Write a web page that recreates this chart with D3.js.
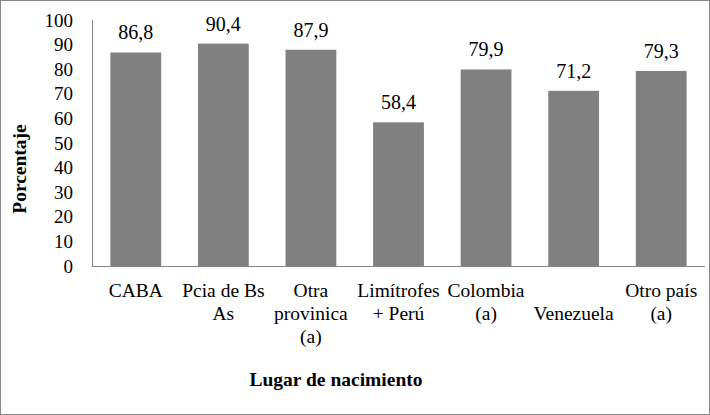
<!DOCTYPE html>
<html>
<head>
<meta charset="utf-8">
<script src="https://cdn.jsdelivr.net/npm/d3@7"></script>
<style>
  body { margin: 0; background: #fff; }
  svg text { font-family: "Liberation Serif", serif; fill: #000; }
</style>
</head>
<body>
<svg id="chart" width="710" height="415"></svg>
<script>
// categories, as wrapped in the original (Venezuela sits on the 2nd line)
var categories = ["CABA", "Pcia de Bs As", "Otra provinica (a)", "Limítrofes + Perú", "Colombia (a)", "Venezuela", "Otro país (a)"];
var labelLines = [["CABA"], ["Pcia de Bs", "As"], ["Otra", "provinica", "(a)"], ["Limítrofes", "+ Perú"], ["Colombia", "(a)"], ["", "Venezuela"], ["Otro país", "(a)"]];
var values = [86.8, 90.4, 87.9, 58.4, 79.9, 71.2, 79.3];
var yTicks = [0, 10, 20, 30, 40, 50, 60, 70, 80, 90, 100];

var svg = d3.select("#chart");
var fmt = function(v){ return d3.format(".1f")(v).replace(".", ","); };

// outer frame
svg.append("rect")
  .attr("x", 0.5).attr("y", 0.5)
  .attr("width", 709).attr("height", 414)
  .attr("fill", "#fff").attr("stroke", "#878787");

var x = d3.scaleBand().domain(categories).range([92, 705])
  .paddingInner(0.42).paddingOuter(0.21);
var y = d3.scaleLinear().domain([0, 100]).range([266, 20]);

// bars
svg.selectAll("rect.bar").data(values).enter()
  .append("rect")
  .attr("class", "bar")
  .attr("x", function(d, i){ return x(categories[i]); })
  .attr("y", function(d){ return y(d); })
  .attr("width", x.bandwidth())
  .attr("height", function(d){ return y(0) - y(d); })
  .attr("fill", "#808080");

// value labels
svg.selectAll("text.val").data(values).enter()
  .append("text")
  .attr("class", "val")
  .attr("text-anchor", "middle")
  .attr("font-size", 20)
  .attr("x", function(d, i){ return x(categories[i]) + x.bandwidth() / 2; })
  .attr("y", function(d){ return y(d) - 13; })
  .text(fmt);

// axis lines
svg.append("line")
  .attr("x1", 92.5).attr("x2", 92.5)
  .attr("y1", y(100)).attr("y2", y(0))
  .attr("stroke", "#868686");
svg.append("line")
  .attr("x1", 92).attr("x2", 705)
  .attr("y1", y(0) + 0.5).attr("y2", y(0) + 0.5)
  .attr("stroke", "#868686");

// y tick labels
svg.selectAll("text.ytick").data(yTicks).enter()
  .append("text")
  .attr("class", "ytick")
  .attr("text-anchor", "end")
  .attr("font-size", 19)
  .attr("x", 73)
  .attr("y", function(d){ return y(d); })
  .attr("dy", "0.35em")
  .text(function(d){ return d; });

// category labels
var cat = svg.selectAll("text.cat").data(categories).enter()
  .append("text")
  .attr("class", "cat")
  .attr("text-anchor", "middle")
  .attr("font-size", 19.5);
cat.each(function(d, i){
  var t = d3.select(this);
  labelLines[i].forEach(function(line, j){
    t.append("tspan")
      .attr("x", x(d) + x.bandwidth() / 2)
      .attr("y", 297 + j * 23)
      .text(line);
  });
});

// axis titles
svg.append("text")
  .attr("text-anchor", "middle")
  .attr("font-size", 19.5)
  .attr("font-weight", "bold")
  .attr("x", 336).attr("y", 386)
  .text("Lugar de nacimiento");

svg.append("text")
  .attr("text-anchor", "middle")
  .attr("font-size", 19.5)
  .attr("font-weight", "bold")
  .attr("transform", "translate(26,169) rotate(-90)")
  .text("Porcentaje");
</script>
</body>
</html>
